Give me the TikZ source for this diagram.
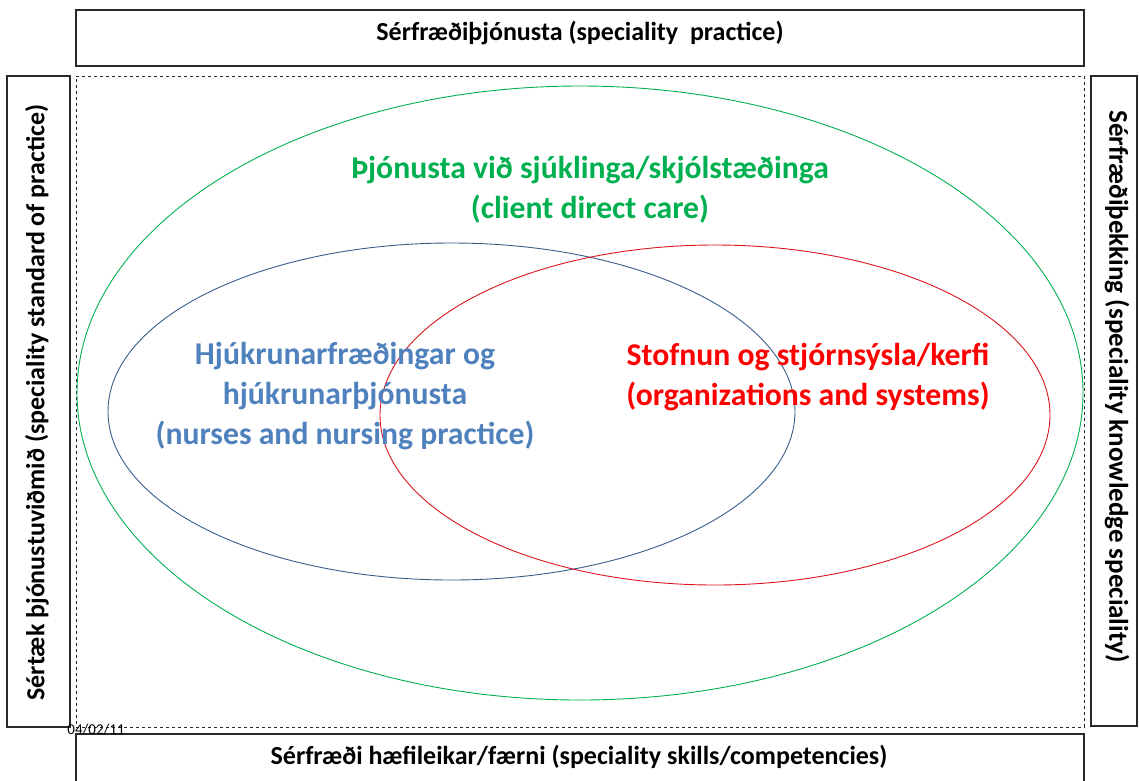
\documentclass[tikz,border=0pt]{standalone}
\usepackage{fontspec}
\setmainfont{Carlito}
\usetikzlibrary{shapes.geometric}
\definecolor{cgreen}{RGB}{0,176,80}
\definecolor{cbluetext}{RGB}{79,129,189}
\definecolor{cblueline}{RGB}{56,93,138}
\definecolor{cred}{RGB}{255,0,0}
\definecolor{credline}{RGB}{220,20,30}
\definecolor{cbox}{RGB}{40,40,40}
\begin{document}
\begin{tikzpicture}[x=1pt,y=-1pt,
  framebox/.style={draw=cbox,line width=1.2pt,rectangle,inner sep=0pt},
  frametext/.style={font=\bfseries\fontsize{26}{30}\selectfont,inner sep=0pt},
  oval/.style={ellipse,inner sep=0pt,line width=0.9pt},
  bigtext/.style={font=\bfseries\fontsize{31.7}{40}\selectfont,align=center}]
\useasboundingbox (0,0) rectangle (1139,780);
\clip (0,0) rectangle (1139,780);
% frame boxes
\node[framebox,minimum width=1008pt,minimum height=56pt] (top) at (580,38) {};
\node[frametext] (toptext) at (580,33) {Sérfræðiþjónusta (speciality\ \ practice)};
\node[framebox,minimum width=1008pt,minimum height=56pt] (bottom) at (580,762) {};
\node[frametext] (bottomtext) at (579,757) {Sérfræði hæfileikar/færni (speciality skills/competencies)};
\node[framebox,minimum width=63pt,minimum height=651pt] (left) at (38.5,401.5) {};
\node[frametext,rotate=90] (lefttext) at (37,402.5) {Sértæk þjónustuviðmið (speciality standard of practice)};
\node[framebox,minimum width=46pt,minimum height=650pt] (right) at (1114,401) {};
\node[frametext,font=\bfseries\fontsize{27}{30}\selectfont,rotate=-90] (righttext) at (1117,386.5) {Sérfræðiþekking (speciality knowledge speciality)};
\node[draw=cbox,dashed,line width=0.9pt,rectangle,inner sep=0pt,minimum width=1008pt,minimum height=651pt] (inner) at (580,401.5) {};
\node[font=\fontsize{15}{17}\selectfont,inner sep=0pt] (date) at (96,730) {04/02/11};
% ellipses
\node[oval,draw=cgreen,minimum width=1006pt,minimum height=614pt] (green) at (580,393) {};
\node[oval,draw=cblueline,minimum width=687pt,minimum height=337pt] (blue) at (451.5,411.5) {};
\node[oval,draw=credline,minimum width=670pt,minimum height=340pt] (red) at (715,415) {};
% labels
\node[bigtext,text=cgreen] (greentext) at (590,190) {Þjónusta við sjúklinga/skjólstæðinga\\(client direct care)};
\node[bigtext,text=cbluetext] (bluetext) at (345,396) {Hjúkrunarfræðingar og\\hjúkrunarþjónusta\\(nurses and nursing practice)};
\node[bigtext,text=cred] (redtext) at (808,377) {Stofnun og stjórnsýsla/kerfi\\(organizations and systems)};
\end{tikzpicture}
\end{document}
